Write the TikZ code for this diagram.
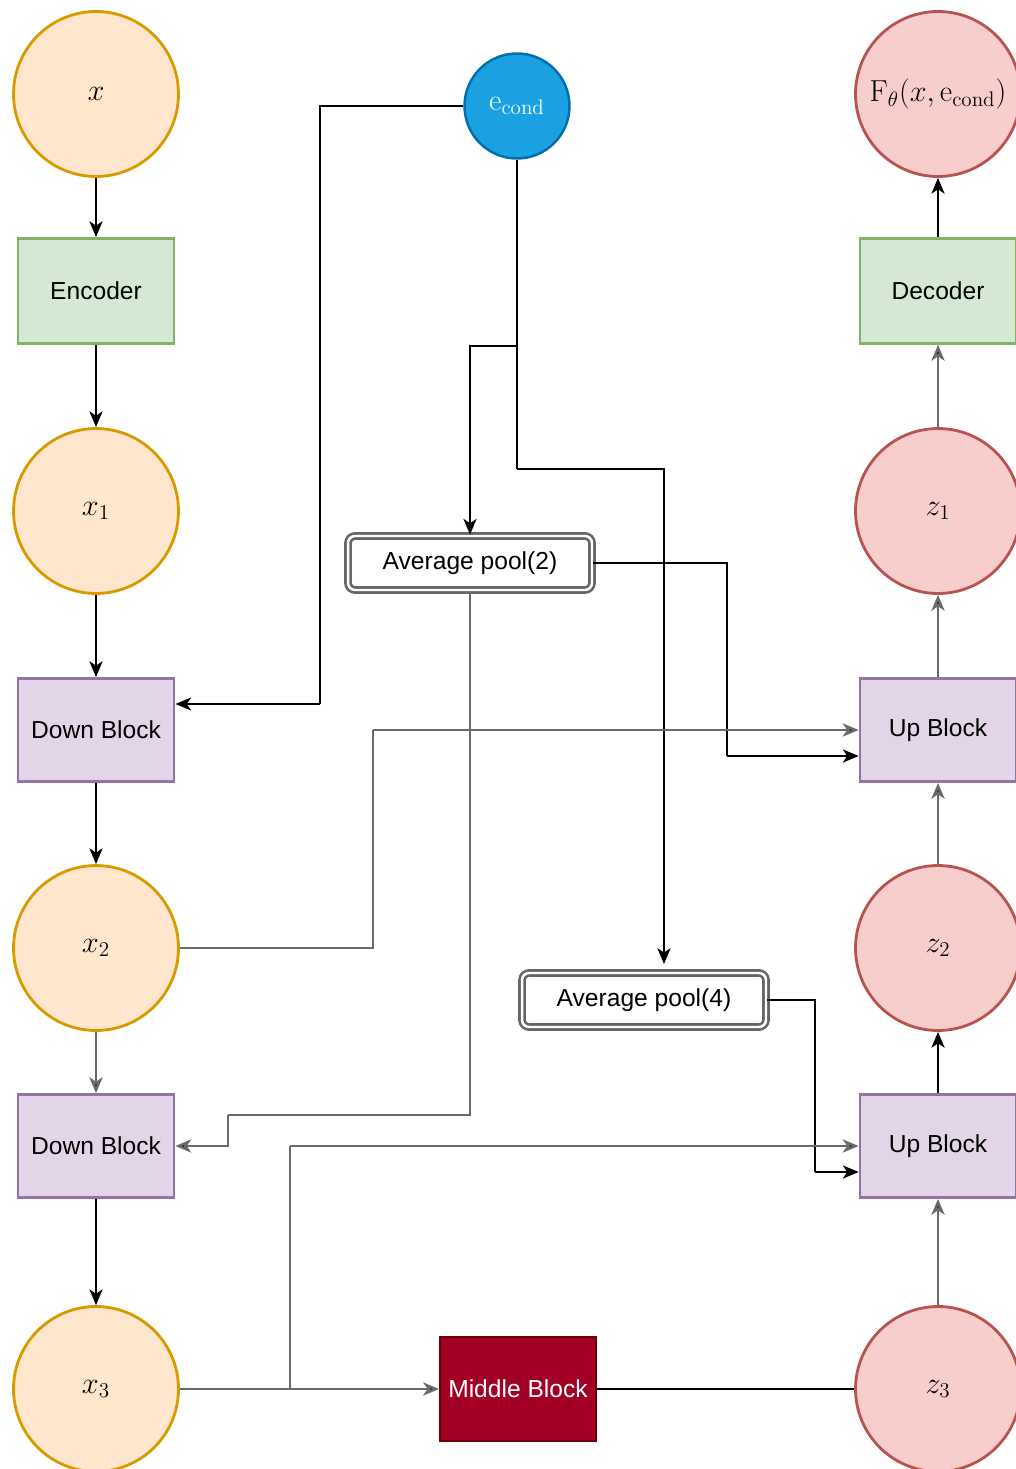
\documentclass[tikz,border=0pt]{standalone}
\usepackage{amsmath}
\usepackage[no-math]{fontspec}
\setmainfont{Liberation Sans}
\usepackage{tikz}
\usetikzlibrary{arrows.meta}

\definecolor{xfill}{HTML}{FFE6CC}
\definecolor{xline}{HTML}{D79B00}
\definecolor{zfill}{HTML}{F8CECC}
\definecolor{zline}{HTML}{B85450}
\definecolor{gfill}{HTML}{D5E8D4}
\definecolor{gline}{HTML}{82B366}
\definecolor{pfill}{HTML}{E1D5E7}
\definecolor{pline}{HTML}{9673A6}
\definecolor{cfill}{HTML}{1BA1E2}
\definecolor{cline}{HTML}{006EAF}
\definecolor{mfill}{HTML}{A20025}
\definecolor{mline}{HTML}{6F0000}
\definecolor{wire}{HTML}{6A6A6A}

\begin{document}
\begin{tikzpicture}
[x=0.02cm,y=-0.02cm,font=\fontsize{14}{17}\selectfont,
 xnode/.style={circle,draw=xline,fill=xfill,line width=1.6pt,inner sep=0pt,minimum size=3.3cm,font=\fontsize{16.5}{20}\selectfont},
 znode/.style={circle,draw=zline,fill=zfill,line width=1.6pt,inner sep=0pt,minimum size=3.3cm,font=\fontsize{16.5}{20}\selectfont},
 condnode/.style={circle,draw=cline,fill=cfill,line width=1.4pt,inner sep=0pt,minimum size=2.1cm,text=white,font=\fontsize{16.5}{20}\selectfont},
 coder/.style={rectangle,draw=gline,fill=gfill,line width=1.6pt,inner sep=0pt,minimum width=3.12cm,minimum height=2.1cm},
 blockbox/.style={rectangle,draw=pline,fill=pfill,line width=1.6pt,inner sep=0pt,minimum width=3.12cm,minimum height=2.06cm},
 midbox/.style={rectangle,draw=mline,fill=mfill,line width=1.2pt,inner sep=0pt,minimum width=3.12cm,minimum height=2.08cm,text=white},
 poolbox/.style={rectangle,rounded corners=4pt,draw=black!60,double=white,double distance=1.4pt,line width=1.5pt,fill=white,inner sep=0pt,minimum width=4.88cm,minimum height=1.08cm},
 line/.style={draw=black,line width=1.1pt},
 gline/.style={draw=wire,line width=1.4pt},
 arr/.style={-{Stealth[length=9pt,width=7.5pt,inset=2.5pt]}},
 hv path/.style={to path={-| (\tikztotarget)}},
 vh path/.style={to path={|- (\tikztotarget)}}]
\useasboundingbox (0,0) rectangle (1016,1469);
% left column
\node[xnode]    (x)   at (96,94)    {$x$};
\node[coder]    (enc) at (96,291)   {Encoder};
\node[xnode]    (x1)  at (96,511)   {$x_1$};
\node[blockbox] (db1) at (96,730)   {Down Block};
\node[xnode]    (x2)  at (96,948)   {$x_2$};
\node[blockbox] (db2) at (96,1146)  {Down Block};
\node[xnode]    (x3)  at (96,1389)  {$x_3$};
% right column
\node[znode]    (out) at (938,94)   {$\mathrm{F}_\theta(x,\mathrm{e}_{\mathrm{cond}})$};
\node[coder]    (dec) at (938,291)  {Decoder};
\node[znode]    (z1)  at (938,511)  {$z_1$};
\node[blockbox] (ub1) at (938,730)  {Up Block};
\node[znode]    (z2)  at (938,948)  {$z_2$};
\node[blockbox] (ub2) at (938,1146) {Up Block};
\node[znode]    (z3)  at (938,1389) {$z_3$};
% middle
\node[condnode] (cond)  at (517,106)  {$\mathrm{e}_{\mathrm{cond}}$};
\node[poolbox]  (pool2) at (470,563)  {Average pool(2)};
\node[poolbox]  (pool4) at (644,1000) {Average pool(4)};
\node[midbox]   (mid)   at (518,1389) {Middle Block};
\coordinate (condbend) at (320,704);
\coordinate (split1)   at (517,346);
\coordinate (split2)   at (517,469);
\coordinate (p4in)     at (664,964);
\coordinate (p2out)    at (727,756);
\coordinate (skip1)    at (373,730);
\coordinate (p2down)   at (228,1115);
\coordinate (p4out)    at (815,1172);
\coordinate (skip2)    at (290,1146);
\path[line] (x) edge[arr] (enc)
      (enc) edge[arr] (x1)
      (x1)  edge[arr] (db1)
      (db1) edge[arr] (x2)
      (db2) edge[arr] (x3)
      (mid) edge (z3)
      (ub2) edge[arr] (z2)
      (dec) edge[arr] (out)
      (cond.west) edge[hv path] (condbend)
      (condbend)  edge[arr] (db1.east |- condbend)
      (cond.south) edge (split2)
      (split1) edge[hv path,arr] (pool2.north)
      (split2) edge[hv path,arr] (p4in)
      (pool2.east) edge[hv path] (p2out)
      (p2out) edge[arr] (ub1.west |- p2out)
      (pool4.east) edge[hv path] (p4out)
      (p4out) edge[arr] (ub2.west |- p4out);
\path[gline] (x2) edge[arr] (db2)
      (z3) edge[arr] (ub2)
      (z2) edge[arr] (ub1)
      (ub1) edge[arr] (z1)
      (z1) edge[arr] (dec)
      (x2.east) edge[hv path] (skip1)
      (skip1) edge[arr] (ub1.west)
      (pool2.south) edge[vh path] (p2down)
      (p2down) edge[vh path,arr] (db2.east)
      (x3.east) edge[hv path] (skip2)
      (skip2) edge[arr] (ub2.west)
      (x3.east) edge[arr] (mid.west);
\end{tikzpicture}
\end{document}
